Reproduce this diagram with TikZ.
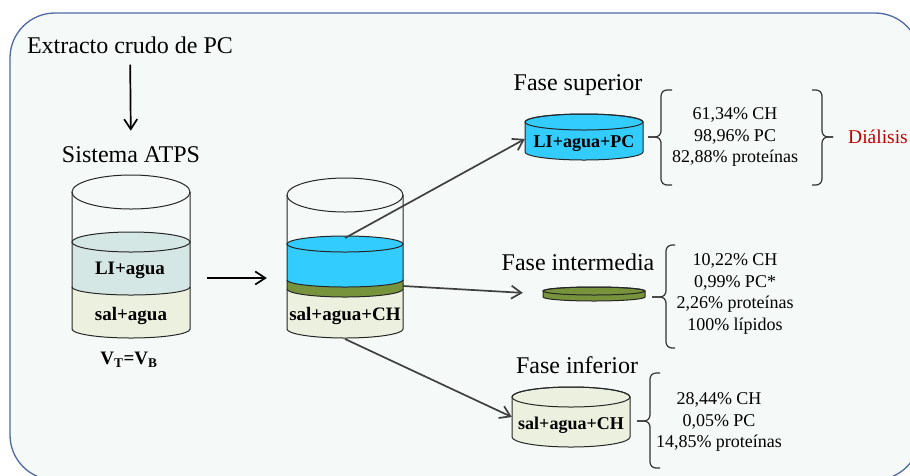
\documentclass[tikz,border=0pt]{standalone}
\usepackage{fontspec}
\setmainfont{Liberation Serif}
\usepackage{tikz}
\usetikzlibrary{arrows.meta,positioning}
\usepackage{xcolor}

\definecolor{fondo}{HTML}{F5FAF8}
\definecolor{marco}{HTML}{4F6AA3}
\definecolor{azul}{HTML}{33CCFF}
\definecolor{verde}{HTML}{77933C}
\definecolor{beige}{HTML}{EBF1DE}
\definecolor{celeste}{HTML}{D5E7E5}
\definecolor{gris}{HTML}{404040}
\definecolor{rojo}{HTML}{C00000}

\begin{document}
\begin{tikzpicture}[
  x=1pt, y=-1pt,
  titulo/.style={font=\fontsize{24}{28}\selectfont, inner sep=0pt},
  capa/.style={font=\fontsize{19}{22}\selectfont\bfseries, inner sep=0pt},
  lista/.style={align=center, font=\fontsize{18}{21.8}\selectfont, inner sep=0pt},
  hueco/.style={inner sep=0pt, minimum width=118pt},
  borde/.style={draw=black!85, line width=1pt},
  flecha/.style={-{Straight Barb[length=10pt,width=13pt]}, line width=1.7pt},
  flechagris/.style={flecha, draw=gris},
  llave/.style={draw=black!80, line width=1.2pt, rounded corners=6pt}
]
\fill[white] (0,0) rectangle (910,475);
\useasboundingbox (0,0) rectangle (910,475);
\draw[draw=marco, fill=fondo, line width=1.3pt, rounded corners=45pt] (10,13) rectangle (920,480);

% vaso del sistema ATPS
\fill[beige] (72,287) -- (72,329) arc[start angle=180, end angle=0, x radius=59, y radius=9] -- (190,287) -- cycle;
\fill[celeste] (72,242) -- (72,287) arc[start angle=180, end angle=0, x radius=59, y radius=8]
  -- (190,242) arc[start angle=0, end angle=-180, x radius=59, y radius=10] -- cycle;
\draw[borde] (131,242) ellipse[x radius=59, y radius=10];
\draw[borde] (72,287) arc[start angle=180, end angle=0, x radius=59, y radius=8];
\draw[borde] (131,192) ellipse[x radius=59, y radius=17];
\draw[borde] (72,192) -- (72,329) arc[start angle=180, end angle=0, x radius=59, y radius=9] -- (190,192);

% vaso tras la separacion
\fill[beige] (287,289) -- (287,329) arc[start angle=180, end angle=0, x radius=58, y radius=9] -- (403,289) -- cycle;
\fill[verde] (287,280) -- (287,289) arc[start angle=180, end angle=0, x radius=58, y radius=8] -- (403,280) -- cycle;
\fill[azul] (287,244) -- (287,280) arc[start angle=180, end angle=0, x radius=58, y radius=7]
  -- (403,244) arc[start angle=0, end angle=-180, x radius=58, y radius=8] -- cycle;
\draw[borde] (345,244) ellipse[x radius=58, y radius=8];
\draw[borde] (287,280) arc[start angle=180, end angle=0, x radius=58, y radius=7];
\draw[borde] (287,289) arc[start angle=180, end angle=0, x radius=58, y radius=8];
\draw[borde] (345,195) ellipse[x radius=58, y radius=17];
\draw[borde] (287,195) -- (287,329) arc[start angle=180, end angle=0, x radius=58, y radius=9] -- (403,195);

% las tres fases
\filldraw[fill=azul, borde] (525,122) -- (525,152) arc[start angle=180, end angle=0, x radius=59, y radius=8]
  -- (643,122) arc[start angle=0, end angle=-180, x radius=59, y radius=8] -- cycle;
\draw[borde] (584,122) ellipse[x radius=59, y radius=8];
\filldraw[fill=verde, borde] (543,291) -- (543,297) arc[start angle=180, end angle=0, x radius=51, y radius=4]
  -- (645,291) arc[start angle=0, end angle=-180, x radius=51, y radius=4] -- cycle;
\draw[borde] (594,291) ellipse[x radius=51, y radius=4];
\filldraw[fill=beige, borde] (512,397) -- (512,437) arc[start angle=180, end angle=0, x radius=59, y radius=10]
  -- (630,397) arc[start angle=0, end angle=-180, x radius=59, y radius=10] -- cycle;
\draw[borde] (571,397) ellipse[x radius=59, y radius=10];

\node[titulo] (extracto) at (130,45) {Extracto crudo de PC};
\node[titulo] (sistema) at (131,155) {Sistema ATPS};
\node[capa] (li) at (130,270) {LI+agua};
\node[capa] (sal) at (131,316) {sal+agua};
\node[capa] (vtvb) at (129,360) {V\textsubscript{T}=V\textsubscript{B}};
\node[hueco, minimum height=100pt] (vaso1) at (131,278) {};
\node[hueco, minimum width=116pt, minimum height=100pt] (vaso2) at (345,278) {};
\node[capa] (salch) at (345,316) {sal+agua+CH};
\coordinate (superficie) at (345,238);
\coordinate (lateral) at (403,286);
\coordinate (base) at (345,339);

\node[titulo] (fsup) at (578,85) {Fase superior};
\node[hueco, minimum height=38pt] (disco1) at (584,139) {};
\node[capa, font=\fontsize{18}{22}\selectfont\bfseries] (lipc) at (584,144) {LI+agua+PC};
\node[lista] (lista1) at (735,137) {61,34\% CH\\98,96\% PC\\82,88\% proteínas};
\node[anchor=west, inner sep=0pt, text=rojo, font=\fontsize{19.5}{22}\selectfont] (dialisis) at (848,137) {Diálisis};

\node[titulo] (fint) at (578,262) {Fase intermedia};
\node[hueco, minimum width=102pt, minimum height=12pt] (disco2) at (594,294) {};
\node[lista] (lista2) at (735,294) {10,22\% CH\\0,99\% PC*\\2,26\% proteínas\\100\% lípidos};

\node[titulo] (finf) at (577,365) {Fase inferior};
\node[hueco, minimum height=60pt] (disco3) at (571,417) {};
\node[capa, font=\fontsize{18}{22}\selectfont\bfseries] (salch2) at (571,425) {sal+agua+CH};
\node[lista] (lista3) at (719,422) {28,44\% CH\\0,05\% PC\\14,85\% proteínas};

\draw[flecha, shorten <=11pt, shorten >=16pt] (extracto) -- (sistema);
\draw[flecha, shorten <=17pt, shorten >=20pt] (vaso1) -- (vaso2);
\draw[flechagris] (superficie) -- (disco1.west);
\draw[flechagris, shorten >=20pt] (lateral) -- (disco2.west);
\draw[flechagris] (base) -- (disco3.west);

% llaves
\draw[llave] (672,90) -- (661,90) -- (661,137) -- (648,137);
\draw[llave] (672,185) -- (661,185) -- (661,137) -- (648,137);
\draw[llave] (812,90) -- (822,90) -- (822,137) -- (833,137);
\draw[llave] (812,185) -- (822,185) -- (822,137) -- (833,137);
\draw[llave] (675,245) -- (666,245) -- (666,297) -- (652,297);
\draw[llave] (675,348) -- (666,348) -- (666,297) -- (652,297);
\draw[llave] (660,373) -- (650,373) -- (650,421) -- (637,421);
\draw[llave] (660,468) -- (650,468) -- (650,421) -- (637,421);
\end{tikzpicture}
\end{document}
